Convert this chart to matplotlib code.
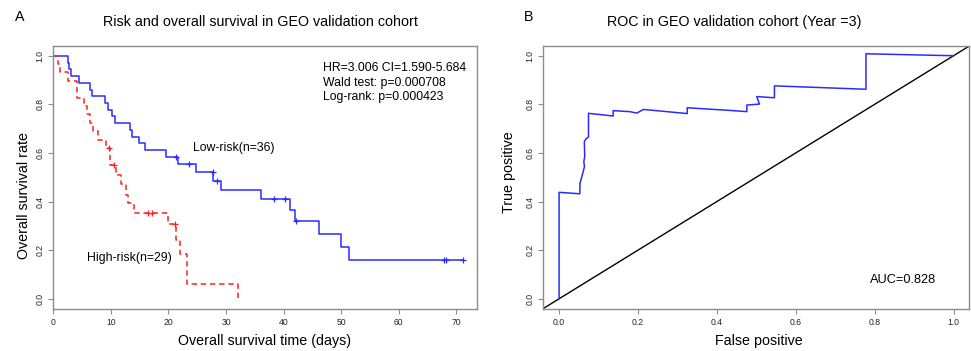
import matplotlib
matplotlib.use("Agg")
import matplotlib.pyplot as plt
import numpy as np

plt.rcParams['font.family'] = ['Liberation Sans', 'DejaVu Sans']

# ---------------- data ----------------
# Low-risk KM curve
low_times = [2.5, 2.8, 3.1, 4.5, 6.4, 6.8, 8.9, 9.55, 10.2, 10.8, 13.25, 13.7, 14.9, 16.0,
             19.5, 21.7, 24.8, 27.8, 29.05, 36.0, 41.1, 41.9, 46.1, 49.9, 51.3]
low_surv = [1.0, 0.972, 0.944, 0.917, 0.889, 0.861, 0.833, 0.806, 0.778, 0.750, 0.722, 0.694,
            0.667, 0.639, 0.611, 0.583, 0.555, 0.520, 0.486, 0.449, 0.412, 0.366, 0.320,
            0.268, 0.214, 0.160]
low_end = 71.1
low_cens_t = [21.3, 23.6, 27.7, 28.4, 38.4, 40.3, 42.2, 67.9, 68.2, 71.1]
low_cens_s = [0.583, 0.555, 0.520, 0.486, 0.412, 0.412, 0.320, 0.160, 0.160, 0.160]

# High-risk KM curve
high_times = [0.87, 1.16, 2.6, 4.2, 5.3, 5.8, 6.3, 6.9, 7.8, 9.1, 9.8, 10.9, 11.7, 12.6,
              13.0, 14.1, 20.0, 21.3, 22.0, 23.3, 32.0]
high_surv = [1.0, 0.966, 0.931, 0.897, 0.828, 0.793, 0.759, 0.724, 0.690, 0.655, 0.621,
             0.551, 0.510, 0.471, 0.427, 0.393, 0.353, 0.307, 0.242, 0.183, 0.060, 0.0]
high_cens_t = [9.6, 10.6, 16.5, 17.2, 21.2]
high_cens_s = [0.621, 0.551, 0.353, 0.353, 0.307]

# ROC curve
roc_fp = [0.0, 0.0, 0.0525, 0.053, 0.059, 0.061, 0.0644, 0.0627, 0.065, 0.064, 0.0695, 0.0746,
          0.0746, 0.137, 0.137, 0.179, 0.197, 0.214, 0.325, 0.325, 0.433, 0.476, 0.476,
          0.508, 0.501, 0.546, 0.546, 0.778, 0.778, 1.0]
roc_tp = [0.0, 0.438, 0.432, 0.475, 0.51, 0.523, 0.544, 0.564, 0.585, 0.647, 0.66, 0.665,
          0.763, 0.752, 0.774, 0.77, 0.764, 0.779, 0.762, 0.786, 0.775, 0.770, 0.797,
          0.801, 0.832, 0.827, 0.876, 0.862, 1.008, 1.0]

xticks_a = [0, 10, 20, 30, 40, 50, 60, 70]
yticks = [0.0, 0.2, 0.4, 0.6, 0.8, 1.0]
xticks_b = [0.0, 0.2, 0.4, 0.6, 0.8, 1.0]

# ---------------- figure ----------------
W, H = 971, 351
fig = plt.figure(figsize=(W / 100, H / 100), dpi=100)

def ax_rect(x0, x1, y0, y1):
    return [x0 / W, 1 - y1 / H, (x1 - x0) / W, (y1 - y0) / H]

axA = fig.add_axes(ax_rect(53.3, 477, 46, 308.5))
axB = fig.add_axes(ax_rect(543.3, 969.3, 46, 308.5))

frame_col = '#8c8c8c'
blue = '#2b2bff'
red = '#ff2020'

def style(ax):
    for s in ax.spines.values():
        s.set_color(frame_col)
        s.set_linewidth(1.0)
    ax.tick_params(axis='both', direction='out', length=3.5, width=0.8, color=frame_col,
                   labelsize=6.2, labelcolor='#222222', pad=3)
    ax.tick_params(axis='y', labelrotation=90)
    for lab in ax.get_yticklabels():
        lab.set_va('center')

def steps(times, surv, end=None):
    xs = [0.0]
    ys = [surv[0]]
    for t, s_prev, s_new in zip(times, surv[:-1], surv[1:]):
        xs += [t, t]
        ys += [s_prev, s_new]
    if end is not None:
        xs.append(end)
        ys.append(surv[-1])
    return xs, ys

# Panel A
xs, ys = steps(low_times, low_surv, low_end)
axA.plot(xs, ys, color=blue, lw=1.1)
xs, ys = steps(high_times, high_surv)
axA.plot(xs, ys, color=red, lw=1.1, ls=(0, (3.5, 2.5)))
axA.plot(low_cens_t, low_cens_s, ls='none', marker='+', ms=5, mew=0.9, color=blue)
axA.plot(high_cens_t, high_cens_s, ls='none', marker='+', ms=5, mew=0.9, color=red)

axA.set_xlim(0, 73.6)
axA.set_ylim(-0.04, 1.04)
axA.set_xticks(xticks_a)
axA.set_xticklabels([str(v) for v in xticks_a])
axA.set_yticks(yticks)
axA.set_yticklabels([f"{v:.1f}" for v in yticks])
style(axA)

axA.text(46.8, 0.948, "HR=3.006 CI=1.590-5.684", fontsize=8.8, va='center', ha='left')
axA.text(46.8, 0.889, "Wald test: p=0.000708", fontsize=8.8, va='center', ha='left')
axA.text(46.8, 0.829, "Log-rank: p=0.000423", fontsize=8.8, va='center', ha='left')
axA.text(24.3, 0.619, "Low-risk(n=36)", fontsize=8.8, va='center', ha='left')
axA.text(5.9, 0.167, "High-risk(n=29)", fontsize=8.8, va='center', ha='left')

axA.set_xlabel("Overall survival time (days)", fontsize=10.3)
axA.set_ylabel("Overall survival rate", fontsize=10.3)
axA.xaxis.set_label_coords(0.499, -0.122)
axA.xaxis.label.set_va('center')
axA.yaxis.set_label_coords(-0.069, 0.43)
axA.yaxis.label.set_va('center')

# Panel B
axB.plot([-0.04, 1.04], [-0.04, 1.04], color='black', lw=1.0)
axB.plot(roc_fp, roc_tp, color=blue, lw=1.1)
axB.set_xlim(-0.04, 1.04)
axB.set_ylim(-0.04, 1.04)
axB.set_xticks(xticks_b)
axB.set_xticklabels([f"{v:.1f}" for v in xticks_b])
axB.set_yticks(yticks)
axB.set_yticklabels([f"{v:.1f}" for v in yticks])
style(axB)
axB.text(0.789, 0.078, "AUC=0.828", fontsize=9.2, va='center', ha='left')
axB.set_xlabel("False positive", fontsize=10.3)
axB.set_ylabel("True positive", fontsize=10.3)
axB.xaxis.set_label_coords(0.506, -0.122)
axB.xaxis.label.set_va('center')
axB.yaxis.set_label_coords(-0.0805, 0.52)
axB.yaxis.label.set_va('center')

# Titles and panel letters
fig.text(260.5 / W, 1 - 21.7 / H, "Risk and overall survival in GEO validation cohort",
         fontsize=10.3, ha='center', va='center')
fig.text(734.2 / W, 1 - 21.7 / H, "ROC in GEO validation cohort (Year =3)",
         fontsize=10.3, ha='center', va='center')
fig.text(20 / W, 1 - 16.7 / H, "A", fontsize=10.3, ha='center', va='center')
fig.text(529 / W, 1 - 16.7 / H, "B", fontsize=10.3, ha='center', va='center')

fig.savefig("out.png", dpi=100)
